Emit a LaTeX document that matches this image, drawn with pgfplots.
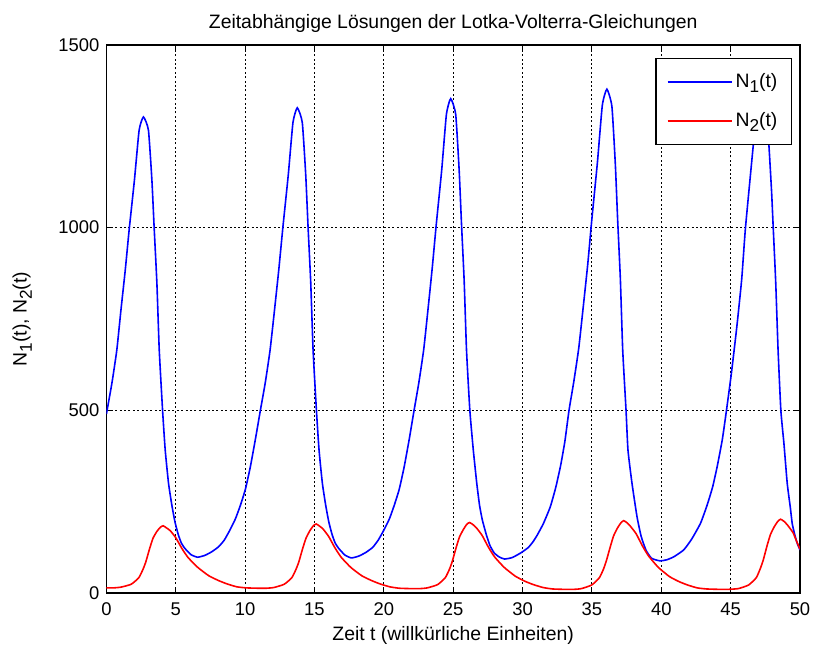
\documentclass[border=0pt]{standalone}
\usepackage{fontspec}
\setmainfont{Liberation Sans}
\usepackage{pgfplots}
\pgfplotsset{compat=1.18}
\definecolor{mblue}{RGB}{0,0,255}
\definecolor{mred}{RGB}{255,0,0}
\newcommand{\mfont}{\fontsize{9.7}{11}\selectfont}
\newcommand{\tfont}{\fontsize{9.2}{11}\selectfont}
\newcommand{\sub}[1]{\raisebox{-0.5ex}{\fontsize{8.6}{9}\selectfont #1}}

\begin{document}
\begin{tikzpicture}
\begin{axis}[
  scale only axis, width=346.8pt, height=274pt,
  xmin=0, xmax=50, ymin=0, ymax=1500,
  xtick={0,5,...,50}, ytick={0,500,1000,1500},
  tick pos=both, tick align=inside, major tick length=3pt,
  axis line style={black, line width=0.6pt},
  tick style={black, line width=0.5pt},
  grid=major,
  grid style={black, line width=0.45pt, dash pattern=on 1pt off 1.2pt},
  /pgf/number format/assume math mode=true,
  /pgf/number format/1000 sep={},
  ticklabel style={font=\tfont},
  xticklabel style={yshift=-1.5pt},
  title={Zeitabh\"angige L\"osungen der Lotka-Volterra-Gleichungen},
  title style={font=\mfont, at={(axis description cs:0.5,1.0165)}, anchor=center},
  xlabel={Zeit t (willk\"urliche Einheiten)},
  xlabel style={font=\mfont, at={(axis description cs:0.5,-0.0766)}, anchor=center},
  ylabel={N\sub{1}(t), N\sub{2}(t)},
  ylabel style={font=\mfont, at={(axis description cs:-0.1213,0.5)}, anchor=center, rotate=0},
  legend style={at={(0.9885,0.976)}, anchor=north east, draw=black,
    line width=0.6pt, fill=white, font=\mfont,
    inner xsep=5.5pt, inner ysep=2pt, row sep=0pt, column sep=0pt,
    nodes={inner xsep=1.5pt, inner ysep=0pt, minimum height=19.5pt}},
  legend cell align=left,
  legend image code/.code={\draw[#1] (0pt,0pt) -- (32pt,0pt);},
]
% N1: Beutepopulation
\addplot[mblue, line width=0.8pt, smooth, tension=0.3] coordinates {
(0.00,490) (0.40,575) (0.75,665) (1.05,775) (1.36,884) (1.64,994) (2.02,1130)
(2.36,1267) (2.67,1303) (3.03,1267) (3.28,1130) (3.45,994) (3.64,848) (3.81,665)
(4.05,500) (4.24,391) (4.48,300) (4.72,240) (4.94,195) (5.18,160) (5.40,137)
(5.66,122) (6.10,105) (6.57,98) (7.10,103) (7.60,113) (8.10,127) (8.50,145)
(8.90,172) (9.30,203) (9.66,240) (10.02,284) (10.38,346) (10.76,425) (11.10,500)
(11.45,575) (11.80,665) (12.12,775) (12.43,886) (12.72,1000) (13.11,1144)
(13.45,1288) (13.76,1328) (14.12,1288) (14.37,1144) (14.54,1000) (14.73,850)
(14.90,665) (15.14,500) (15.33,391) (15.57,300) (15.81,240) (16.03,195)
(16.27,160) (16.49,137) (16.75,122) (17.19,104) (17.66,96) (18.19,101)
(18.70,111) (19.20,125) (19.60,145) (20.00,172) (20.40,203) (20.75,240)
(21.11,284) (21.47,346) (21.85,425) (22.18,500)
(22.52,575) (22.87,665) (23.18,775) (23.49,890) (23.78,1009) (24.17,1157)
(24.51,1310) (24.82,1353) (25.18,1310) (25.43,1157) (25.60,1009) (25.79,855)
(25.96,665) (26.20,500) (26.45,391) (26.70,300) (26.90,240) (27.10,200)
(27.40,158) (27.65,130) (27.95,110) (28.30,99) (28.70,93) (29.25,97)
(29.84,109) (30.40,124) (30.75,140) (31.05,158) (31.50,190) (32.00,236)
(32.40,290) (32.75,350) (33.05,415) (33.35,500)
(33.70,580) (34.05,670) (34.38,785) (34.70,900) (34.98,1017) (35.40,1180)
(35.75,1335) (36.08,1379) (36.44,1332) (36.69,1172) (36.86,1017) (37.05,860)
(37.22,665) (37.46,500) (37.60,391) (37.89,300) (38.25,209) (38.55,155)
(38.90,117) (39.30,95) (39.90,88) (40.40,91) (40.90,99) (41.62,118)
(42.20,148) (42.83,191) (43.30,240) (43.70,290) (44.03,346) (44.40,420)
(44.70,500)
(45.05,600) (45.45,730) (45.80,860) (46.07,1000) (46.63,1225) (46.95,1360)
(47.22,1410) (47.50,1360) (47.76,1225) (47.95,1100) (48.07,1000) (48.25,850)
(48.42,665) (48.62,500) (48.84,410) (49.08,300) (49.30,235) (49.44,190)
(49.62,160) (49.80,136) (50.00,118)
};
\addlegendentry{N\sub{1}(t)}
% N2: Raeuberpopulation
\addplot[mred, line width=0.8pt, smooth, tension=0.3] coordinates {
(0.00,14) (0.50,14) (1.04,16) (1.79,24) (2.34,42) (2.64,65) (2.84,85)
(3.12,122) (3.36,150) (3.63,168) (3.89,180) (4.09,184) (4.34,178) (4.59,171)
(4.99,152) (5.44,122) (5.89,97) (6.59,70) (7.39,47) (8.09,34) (8.69,25)
(9.39,17) (10.09,14) (11.00,13) (11.50,13)
(12.07,15) (12.82,24) (13.37,42) (13.67,65) (13.87,85) (14.15,122) (14.39,150)
(14.66,170) (14.92,184) (15.12,189) (15.37,183) (15.62,175) (16.02,155)
(16.47,124) (16.92,98) (17.62,70) (18.42,47) (19.12,34) (19.72,25) (20.42,17)
(21.12,13) (22.00,12) (22.60,12)
(23.13,14) (23.88,23) (24.43,42) (24.73,65) (24.93,86) (25.21,124) (25.45,153)
(25.72,173) (25.98,188) (26.18,193) (26.43,187) (26.68,178) (27.08,158)
(27.53,126) (27.98,99) (28.68,70) (29.48,46) (30.18,32) (30.78,23) (31.48,15)
(32.18,11) (33.00,10) (33.70,10)
(34.24,12) (34.99,22) (35.54,42) (35.84,66) (36.04,88) (36.32,126) (36.56,156)
(36.83,177) (37.09,192) (37.29,198) (37.54,192) (37.79,182) (38.19,162)
(38.64,129) (39.09,101) (39.79,70) (40.59,45) (41.29,31) (41.89,22) (42.59,14)
(43.29,11) (44.20,10) (44.80,10)
(45.55,12) (46.30,22) (46.85,42) (47.15,68) (47.35,90) (47.63,130) (47.87,160)
(48.14,181) (48.40,196) (48.60,202) (48.85,196) (49.10,186) (49.50,165)
(49.75,142) (50.00,120)
};
\addlegendentry{N\sub{2}(t)}
\end{axis}
\pgfresetboundingbox
\useasboundingbox ([xshift=-53.2pt,yshift=-27.5pt]current axis.south west)
  rectangle ([xshift=6.5pt,yshift=22.5pt]current axis.north east);
\end{tikzpicture}
\end{document}
